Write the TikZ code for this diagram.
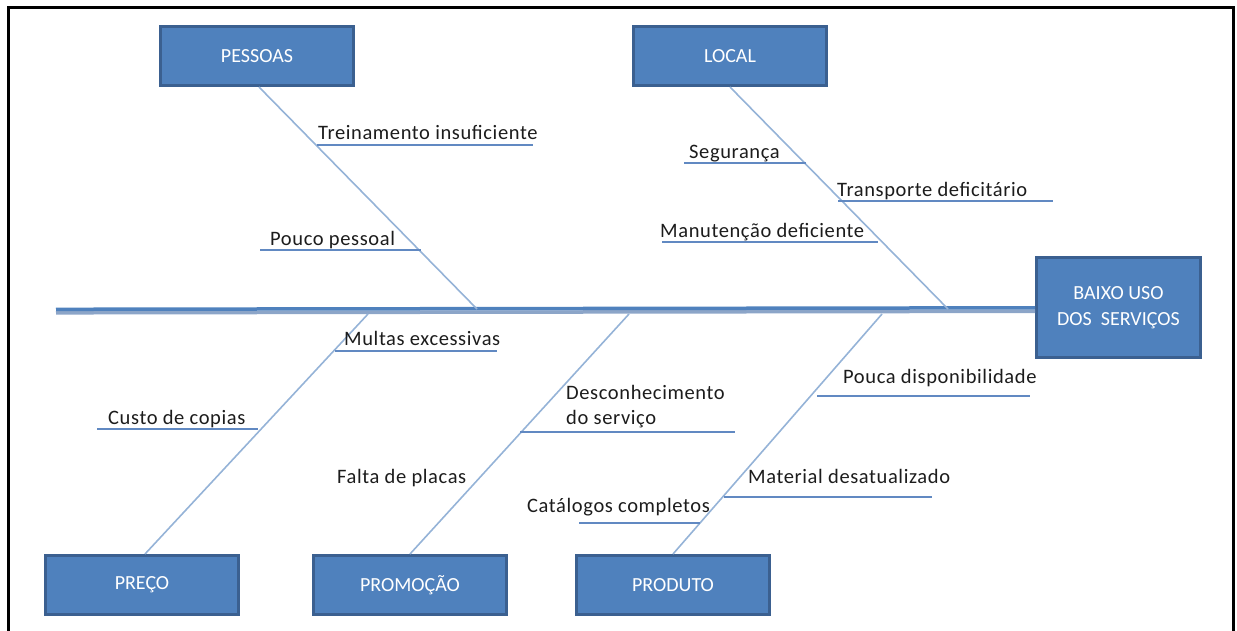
\documentclass[tikz,border=0pt]{standalone}
\usepackage{fontspec}
\setmainfont{Carlito}
\newfontfamily\labelfont[LetterSpace=3]{Carlito}
\usetikzlibrary{calc}
\definecolor{boxfill}{HTML}{4F81BD}
\definecolor{boxline}{HTML}{3B6090}
\definecolor{bonecol}{HTML}{95B3D7}
\definecolor{twigcol}{HTML}{6189C2}
\definecolor{spinetop}{HTML}{4F81BD}
\definecolor{spinelow}{HTML}{8CA5C8}
\definecolor{labelcol}{HTML}{1C1C1C}
\begin{document}
\begin{tikzpicture}[x=1pt,y=-1pt,
  catbox/.style={draw=boxline, line width=3pt, fill=boxfill, text=white,
    font=\fontsize{20}{26}\selectfont, minimum width=193pt, minimum height=59pt,
    inner sep=0pt, align=center},
  bonestyle/.style={draw=bonecol, line width=1.6pt},
  twig/.style={draw=twigcol, line width=2pt},
  lbl/.style={anchor=base west, inner sep=0pt, text=labelcol,
    font=\labelfont\fontsize{20.5}{24}\selectfont}]
\useasboundingbox (0,0) rectangle (1237,630);

% outer frame (open at the bottom)
\draw[line width=3pt, black] (8,632) -- (8,7) -- (1233,7) -- (1233,632);

% effect box and category boxes
\node[catbox, minimum width=164pt, minimum height=100pt] (effect) at (1118.5,307.5) {BAIXO USO\\DOS\ \ SERVIÇOS};
\node[catbox] (pessoas)  at (257,56)    {PESSOAS};
\node[catbox] (local)    at (730,56)    {LOCAL};
\node[catbox] (preco)    at (142,585)   {PREÇO};
\node[catbox] (promocao) at (410,585)   {PROMOÇÃO};
\node[catbox] (produto)  at (673,585)   {PRODUTO};

% spine: darker upper band over a lighter lower band
\coordinate (tail) at (56,311);
\draw[spinelow, line width=3.5pt] ($(tail)+(0,1.8)$) -- ($(effect.west)+(0,3.8)$);
\draw[spinetop, line width=3.5pt] ($(tail)+(0,-1.7)$) -- ($(effect.west)+(0,0.3)$);

% main bones
\coordinate (s1) at (477,309);
\coordinate (s2) at (948,309);
\coordinate (s3) at (368,314);
\coordinate (s4) at (629,314);
\coordinate (s5) at (882,314);
\draw[bonestyle] ($(pessoas.south)+(2,0)$) -- (s1);
\draw[bonestyle] (local.south) -- (s2);
\draw[bonestyle] ($(preco.north)+(3,0)$) -- (s3);
\draw[bonestyle] (promocao.north) -- (s4);
\draw[bonestyle] (produto.north) -- (s5);

% PESSOAS causes
\coordinate (a1) at (317,145); \coordinate (b1) at (533,145);
\draw[twig] (a1) -- (b1);
\node[lbl] (t1) at (318,139) {Treinamento insuficiente};
\coordinate (a2) at (260,250); \coordinate (b2) at (421,250);
\draw[twig] (a2) -- (b2);
\node[lbl] (t2) at (270,245) {Pouco pessoal};

% LOCAL causes
\coordinate (a3) at (684,163); \coordinate (b3) at (806,163);
\draw[twig] (a3) -- (b3);
\node[lbl] (t3) at (689,158) {Segurança};
\coordinate (a4) at (838,201); \coordinate (b4) at (1053,201);
\draw[twig] (a4) -- (b4);
\node[lbl] (t4) at (837,196) {Transporte deficitário};
\coordinate (a5) at (662,242); \coordinate (b5) at (878,242);
\draw[twig] (a5) -- (b5);
\node[lbl] (t5) at (660,237) {Manutenção deficiente};

% PREÇO causes
\coordinate (a6) at (335,351); \coordinate (b6) at (497,351);
\draw[twig] (a6) -- (b6);
\node[lbl] (t6) at (344,345) {Multas excessivas};
\coordinate (a7) at (97,429); \coordinate (b7) at (258,429);
\draw[twig] (a7) -- (b7);
\node[lbl] (t7) at (108,424) {Custo de copias};

% PROMOÇÃO causes
\coordinate (a8) at (520,432); \coordinate (b8) at (735,432);
\draw[twig] (a8) -- (b8);
\node[lbl] (t8) at (566,399) {Desconhecimento};
\node[lbl] (t8b) at (566,424) {do serviço};
\node[lbl] (t9) at (337,483) {Falta de placas};

% PRODUTO causes
\coordinate (a10) at (817,396); \coordinate (b10) at (1030,396);
\draw[twig] (a10) -- (b10);
\node[lbl] (t10) at (843,383) {Pouca disponibilidade};
\coordinate (a11) at (724,497); \coordinate (b11) at (932,497);
\draw[twig] (a11) -- (b11);
\node[lbl] (t11) at (748,483) {Material desatualizado};
\coordinate (a12) at (579,523); \coordinate (b12) at (700,523);
\draw[twig] (a12) -- (b12);
\node[lbl] (t12) at (527,512) {Catálogos completos};
\end{tikzpicture}
\end{document}
